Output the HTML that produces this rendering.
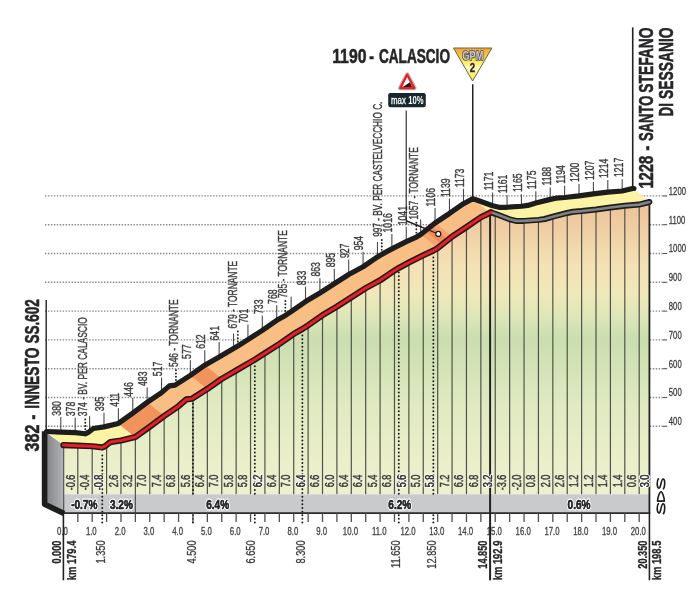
<!DOCTYPE html>
<html><head><meta charset="utf-8"><title>Calascio - Santo Stefano di Sessanio</title>
<style>
html,body{margin:0;padding:0;background:#fff;}
body{width:700px;height:611px;overflow:hidden;font-family:"Liberation Sans",sans-serif;}
svg{display:block;will-change:transform;}
text{font-family:"Liberation Sans",sans-serif;}
</style></head><body>
<svg width="700" height="611" viewBox="0 0 700 611" font-family="Liberation Sans, sans-serif">
<defs>
<linearGradient id="face" gradientUnits="userSpaceOnUse" x1="0" y1="200" x2="0" y2="494.3">
<stop offset="0" stop-color="#ecc195"/>
<stop offset="0.10" stop-color="#f0cea4"/>
<stop offset="0.22" stop-color="#f4e1b5"/>
<stop offset="0.32" stop-color="#f0e8ba"/>
<stop offset="0.40" stop-color="#dce6b8"/>
<stop offset="0.47" stop-color="#cadeb0"/>
<stop offset="0.55" stop-color="#d1e2b5"/>
<stop offset="0.68" stop-color="#dfe9c0"/>
<stop offset="0.85" stop-color="#e9eec9"/>
<stop offset="1" stop-color="#eef1d0"/>
</linearGradient>
<linearGradient id="side" x1="0" y1="0" x2="1" y2="0">
<stop offset="0" stop-color="#808184"/>
<stop offset="1" stop-color="#b1b2b4"/>
</linearGradient>
<linearGradient id="gpm" x1="0" y1="0" x2="0" y2="1">
<stop offset="0" stop-color="#efa338"/>
<stop offset="0.28" stop-color="#f9cf3e"/>
<stop offset="0.45" stop-color="#fdee6a"/>
<stop offset="0.62" stop-color="#fff9c4"/>
<stop offset="0.82" stop-color="#fdee6a"/>
<stop offset="1" stop-color="#fde647"/>
</linearGradient>
</defs>
<rect width="700" height="611" fill="#fff"/>
<line x1="45" y1="195.9" x2="662.5" y2="195.9" stroke="#88888b" stroke-width="1.4" stroke-dasharray="1.45 1.5"/>
<line x1="662.5" y1="195.9" x2="667.2" y2="195.9" stroke="#555" stroke-width="1.1"/>
<text transform="translate(668.8,194.7) scale(0.655,1)" font-size="11.8" text-anchor="start" fill="#3a3a3c" stroke="#3a3a3c" stroke-width="0.3">1200</text>
<line x1="45" y1="224.7" x2="662.5" y2="224.7" stroke="#88888b" stroke-width="1.4" stroke-dasharray="1.45 1.5"/>
<line x1="662.5" y1="224.7" x2="667.2" y2="224.7" stroke="#555" stroke-width="1.1"/>
<text transform="translate(668.8,223.5) scale(0.655,1)" font-size="11.8" text-anchor="start" fill="#3a3a3c" stroke="#3a3a3c" stroke-width="0.3">1100</text>
<line x1="45" y1="253.5" x2="662.5" y2="253.5" stroke="#88888b" stroke-width="1.4" stroke-dasharray="1.45 1.5"/>
<line x1="662.5" y1="253.5" x2="667.2" y2="253.5" stroke="#555" stroke-width="1.1"/>
<text transform="translate(668.8,252.3) scale(0.655,1)" font-size="11.8" text-anchor="start" fill="#3a3a3c" stroke="#3a3a3c" stroke-width="0.3">1000</text>
<line x1="45" y1="282.3" x2="662.5" y2="282.3" stroke="#88888b" stroke-width="1.4" stroke-dasharray="1.45 1.5"/>
<line x1="662.5" y1="282.3" x2="667.2" y2="282.3" stroke="#555" stroke-width="1.1"/>
<text transform="translate(668.8,281.1) scale(0.655,1)" font-size="11.8" text-anchor="start" fill="#3a3a3c" stroke="#3a3a3c" stroke-width="0.3">900</text>
<line x1="45" y1="311.1" x2="662.5" y2="311.1" stroke="#88888b" stroke-width="1.4" stroke-dasharray="1.45 1.5"/>
<line x1="662.5" y1="311.1" x2="667.2" y2="311.1" stroke="#555" stroke-width="1.1"/>
<text transform="translate(668.8,309.9) scale(0.655,1)" font-size="11.8" text-anchor="start" fill="#3a3a3c" stroke="#3a3a3c" stroke-width="0.3">800</text>
<line x1="45" y1="339.9" x2="662.5" y2="339.9" stroke="#88888b" stroke-width="1.4" stroke-dasharray="1.45 1.5"/>
<line x1="662.5" y1="339.9" x2="667.2" y2="339.9" stroke="#555" stroke-width="1.1"/>
<text transform="translate(668.8,338.7) scale(0.655,1)" font-size="11.8" text-anchor="start" fill="#3a3a3c" stroke="#3a3a3c" stroke-width="0.3">700</text>
<line x1="45" y1="368.7" x2="662.5" y2="368.7" stroke="#88888b" stroke-width="1.4" stroke-dasharray="1.45 1.5"/>
<line x1="662.5" y1="368.7" x2="667.2" y2="368.7" stroke="#555" stroke-width="1.1"/>
<text transform="translate(668.8,367.5) scale(0.655,1)" font-size="11.8" text-anchor="start" fill="#3a3a3c" stroke="#3a3a3c" stroke-width="0.3">600</text>
<line x1="45" y1="397.5" x2="662.5" y2="397.5" stroke="#88888b" stroke-width="1.4" stroke-dasharray="1.45 1.5"/>
<line x1="662.5" y1="397.5" x2="667.2" y2="397.5" stroke="#555" stroke-width="1.1"/>
<text transform="translate(668.8,396.3) scale(0.655,1)" font-size="11.8" text-anchor="start" fill="#3a3a3c" stroke="#3a3a3c" stroke-width="0.3">500</text>
<line x1="45" y1="426.3" x2="662.5" y2="426.3" stroke="#88888b" stroke-width="1.4" stroke-dasharray="1.45 1.5"/>
<line x1="662.5" y1="426.3" x2="667.2" y2="426.3" stroke="#555" stroke-width="1.1"/>
<text transform="translate(668.8,425.1) scale(0.655,1)" font-size="11.8" text-anchor="start" fill="#3a3a3c" stroke="#3a3a3c" stroke-width="0.3">400</text>
<line x1="60.8" y1="432.06" x2="60.8" y2="417.06" stroke="#4a4a4c" stroke-width="1.1"/>
<text transform="translate(61.09,415.66) rotate(-90) scale(0.695,1)" font-size="12.5" text-anchor="start" fill="#3c3c3e" stroke="#3c3c3e" stroke-width="0.4">380</text>
<line x1="75.19" y1="432.64" x2="75.19" y2="417.64" stroke="#4a4a4c" stroke-width="1.1"/>
<text transform="translate(75.49,416.24) rotate(-90) scale(0.695,1)" font-size="12.5" text-anchor="start" fill="#3c3c3e" stroke="#3c3c3e" stroke-width="0.4">378</text>
<line x1="103.98" y1="426.88" x2="103.98" y2="412.74" stroke="#4a4a4c" stroke-width="1.1"/>
<text transform="translate(104.28,411.34) rotate(-90) scale(0.695,1)" font-size="12.5" text-anchor="start" fill="#3c3c3e" stroke="#3c3c3e" stroke-width="0.4">395</text>
<line x1="118.38" y1="423.42" x2="118.38" y2="408.13" stroke="#4a4a4c" stroke-width="1.1"/>
<text transform="translate(118.67,406.73) rotate(-90) scale(0.695,1)" font-size="12.5" text-anchor="start" fill="#3c3c3e" stroke="#3c3c3e" stroke-width="0.4">411</text>
<line x1="132.77" y1="413.05" x2="132.77" y2="398.05" stroke="#4a4a4c" stroke-width="1.1"/>
<text transform="translate(133.07,396.65) rotate(-90) scale(0.695,1)" font-size="12.5" text-anchor="start" fill="#3c3c3e" stroke="#3c3c3e" stroke-width="0.4">446</text>
<line x1="147.16" y1="402.4" x2="147.16" y2="387.4" stroke="#4a4a4c" stroke-width="1.1"/>
<text transform="translate(147.47,386) rotate(-90) scale(0.695,1)" font-size="12.5" text-anchor="start" fill="#3c3c3e" stroke="#3c3c3e" stroke-width="0.4">483</text>
<line x1="161.56" y1="392.6" x2="161.56" y2="377.6" stroke="#4a4a4c" stroke-width="1.1"/>
<text transform="translate(161.86,376.2) rotate(-90) scale(0.695,1)" font-size="12.5" text-anchor="start" fill="#3c3c3e" stroke="#3c3c3e" stroke-width="0.4">517</text>
<line x1="190.35" y1="375.32" x2="190.35" y2="360.32" stroke="#4a4a4c" stroke-width="1.1"/>
<text transform="translate(190.65,358.92) rotate(-90) scale(0.695,1)" font-size="12.5" text-anchor="start" fill="#3c3c3e" stroke="#3c3c3e" stroke-width="0.4">577</text>
<line x1="204.75" y1="365.24" x2="204.75" y2="350.24" stroke="#4a4a4c" stroke-width="1.1"/>
<text transform="translate(205.05,348.84) rotate(-90) scale(0.695,1)" font-size="12.5" text-anchor="start" fill="#3c3c3e" stroke="#3c3c3e" stroke-width="0.4">612</text>
<line x1="219.14" y1="356.89" x2="219.14" y2="341.89" stroke="#4a4a4c" stroke-width="1.1"/>
<text transform="translate(219.44,340.49) rotate(-90) scale(0.695,1)" font-size="12.5" text-anchor="start" fill="#3c3c3e" stroke="#3c3c3e" stroke-width="0.4">641</text>
<line x1="247.93" y1="339.61" x2="247.93" y2="324.61" stroke="#4a4a4c" stroke-width="1.1"/>
<text transform="translate(248.23,323.21) rotate(-90) scale(0.695,1)" font-size="12.5" text-anchor="start" fill="#3c3c3e" stroke="#3c3c3e" stroke-width="0.4">701</text>
<line x1="262.32" y1="330.4" x2="262.32" y2="315.4" stroke="#4a4a4c" stroke-width="1.1"/>
<text transform="translate(262.62,314) rotate(-90) scale(0.695,1)" font-size="12.5" text-anchor="start" fill="#3c3c3e" stroke="#3c3c3e" stroke-width="0.4">733</text>
<line x1="276.72" y1="320.32" x2="276.72" y2="305.32" stroke="#4a4a4c" stroke-width="1.1"/>
<text transform="translate(277.02,303.92) rotate(-90) scale(0.695,1)" font-size="12.5" text-anchor="start" fill="#3c3c3e" stroke="#3c3c3e" stroke-width="0.4">768</text>
<line x1="305.51" y1="301.6" x2="305.51" y2="286.6" stroke="#4a4a4c" stroke-width="1.1"/>
<text transform="translate(305.81,285.2) rotate(-90) scale(0.695,1)" font-size="12.5" text-anchor="start" fill="#3c3c3e" stroke="#3c3c3e" stroke-width="0.4">833</text>
<line x1="319.9" y1="292.96" x2="319.9" y2="277.96" stroke="#4a4a4c" stroke-width="1.1"/>
<text transform="translate(320.2,276.56) rotate(-90) scale(0.695,1)" font-size="12.5" text-anchor="start" fill="#3c3c3e" stroke="#3c3c3e" stroke-width="0.4">863</text>
<line x1="334.3" y1="283.74" x2="334.3" y2="268.74" stroke="#4a4a4c" stroke-width="1.1"/>
<text transform="translate(334.6,267.34) rotate(-90) scale(0.695,1)" font-size="12.5" text-anchor="start" fill="#3c3c3e" stroke="#3c3c3e" stroke-width="0.4">895</text>
<line x1="348.69" y1="274.52" x2="348.69" y2="259.52" stroke="#4a4a4c" stroke-width="1.1"/>
<text transform="translate(349,258.12) rotate(-90) scale(0.695,1)" font-size="12.5" text-anchor="start" fill="#3c3c3e" stroke="#3c3c3e" stroke-width="0.4">927</text>
<line x1="363.09" y1="266.75" x2="363.09" y2="251.75" stroke="#4a4a4c" stroke-width="1.1"/>
<text transform="translate(363.39,250.35) rotate(-90) scale(0.695,1)" font-size="12.5" text-anchor="start" fill="#3c3c3e" stroke="#3c3c3e" stroke-width="0.4">954</text>
<line x1="391.88" y1="248.89" x2="391.88" y2="233.89" stroke="#4a4a4c" stroke-width="1.1"/>
<text transform="translate(392.18,232.49) rotate(-90) scale(0.695,1)" font-size="12.5" text-anchor="start" fill="#3c3c3e" stroke="#3c3c3e" stroke-width="0.4">1016</text>
<line x1="406.27" y1="241.69" x2="406.27" y2="226.69" stroke="#4a4a4c" stroke-width="1.1"/>
<text transform="translate(406.57,225.29) rotate(-90) scale(0.695,1)" font-size="12.5" text-anchor="start" fill="#3c3c3e" stroke="#3c3c3e" stroke-width="0.4">1041</text>
<line x1="435.06" y1="222.97" x2="435.06" y2="207.97" stroke="#4a4a4c" stroke-width="1.1"/>
<text transform="translate(435.36,206.57) rotate(-90) scale(0.695,1)" font-size="12.5" text-anchor="start" fill="#3c3c3e" stroke="#3c3c3e" stroke-width="0.4">1106</text>
<line x1="449.46" y1="213.47" x2="449.46" y2="198.47" stroke="#4a4a4c" stroke-width="1.1"/>
<text transform="translate(449.76,197.07) rotate(-90) scale(0.695,1)" font-size="12.5" text-anchor="start" fill="#3c3c3e" stroke="#3c3c3e" stroke-width="0.4">1139</text>
<line x1="463.49" y1="203.68" x2="463.49" y2="188.68" stroke="#4a4a4c" stroke-width="1.1"/>
<text transform="translate(463.79,187.28) rotate(-90) scale(0.695,1)" font-size="12.5" text-anchor="start" fill="#3c3c3e" stroke="#3c3c3e" stroke-width="0.4">1173</text>
<line x1="492.64" y1="205.69" x2="492.64" y2="192.45" stroke="#4a4a4c" stroke-width="1.1"/>
<text transform="translate(492.94,190.35) rotate(-90) scale(0.695,1)" font-size="12.5" text-anchor="start" fill="#3c3c3e" stroke="#3c3c3e" stroke-width="0.4">1171</text>
<line x1="507.04" y1="207.28" x2="507.04" y2="195.33" stroke="#4a4a4c" stroke-width="1.1"/>
<text transform="translate(507.34,193.23) rotate(-90) scale(0.695,1)" font-size="12.5" text-anchor="start" fill="#3c3c3e" stroke="#3c3c3e" stroke-width="0.4">1161</text>
<line x1="521.43" y1="206.27" x2="521.43" y2="194.18" stroke="#4a4a4c" stroke-width="1.1"/>
<text transform="translate(521.73,192.08) rotate(-90) scale(0.695,1)" font-size="12.5" text-anchor="start" fill="#3c3c3e" stroke="#3c3c3e" stroke-width="0.4">1165</text>
<line x1="535.83" y1="203.1" x2="535.83" y2="191.3" stroke="#4a4a4c" stroke-width="1.1"/>
<text transform="translate(536.13,189.2) rotate(-90) scale(0.695,1)" font-size="12.5" text-anchor="start" fill="#3c3c3e" stroke="#3c3c3e" stroke-width="0.4">1175</text>
<line x1="550.23" y1="199.36" x2="550.23" y2="187.56" stroke="#4a4a4c" stroke-width="1.1"/>
<text transform="translate(550.52,185.46) rotate(-90) scale(0.695,1)" font-size="12.5" text-anchor="start" fill="#3c3c3e" stroke="#3c3c3e" stroke-width="0.4">1188</text>
<line x1="564.62" y1="197.48" x2="564.62" y2="185.83" stroke="#4a4a4c" stroke-width="1.1"/>
<text transform="translate(564.92,183.73) rotate(-90) scale(0.695,1)" font-size="12.5" text-anchor="start" fill="#3c3c3e" stroke="#3c3c3e" stroke-width="0.4">1194</text>
<line x1="579.01" y1="195.9" x2="579.01" y2="184.1" stroke="#4a4a4c" stroke-width="1.1"/>
<text transform="translate(579.31,182) rotate(-90) scale(0.695,1)" font-size="12.5" text-anchor="start" fill="#3c3c3e" stroke="#3c3c3e" stroke-width="0.4">1200</text>
<line x1="593.41" y1="193.88" x2="593.41" y2="182.08" stroke="#4a4a4c" stroke-width="1.1"/>
<text transform="translate(593.71,179.98) rotate(-90) scale(0.695,1)" font-size="12.5" text-anchor="start" fill="#3c3c3e" stroke="#3c3c3e" stroke-width="0.4">1207</text>
<line x1="607.8" y1="192.16" x2="607.8" y2="180.07" stroke="#4a4a4c" stroke-width="1.1"/>
<text transform="translate(608.1,177.97) rotate(-90) scale(0.695,1)" font-size="12.5" text-anchor="start" fill="#3c3c3e" stroke="#3c3c3e" stroke-width="0.4">1214</text>
<line x1="622.2" y1="191" x2="622.2" y2="179.2" stroke="#4a4a4c" stroke-width="1.1"/>
<text transform="translate(622.5,177.1) rotate(-90) scale(0.695,1)" font-size="12.5" text-anchor="start" fill="#3c3c3e" stroke="#3c3c3e" stroke-width="0.4">1217</text>
<line x1="89.59" y1="431.37" x2="89.59" y2="416.37" stroke="#4a4a4c" stroke-width="1.1"/>
<line x1="233.53" y1="348.54" x2="233.53" y2="333.54" stroke="#4a4a4c" stroke-width="1.1"/>
<line x1="291.12" y1="311.68" x2="291.12" y2="296.68" stroke="#4a4a4c" stroke-width="1.1"/>
<line x1="377.48" y1="256.96" x2="377.48" y2="241.96" stroke="#4a4a4c" stroke-width="1.1"/>
<line x1="420.67" y1="234.49" x2="420.67" y2="219.49" stroke="#4a4a4c" stroke-width="1.1"/>
<line x1="85.27" y1="419.39" x2="85.27" y2="430.29" stroke="#1a1a1a" stroke-width="1.9" stroke-linecap="round" stroke-dasharray="0 3.3"/>
<text transform="translate(87.27,416.29) rotate(-90) scale(0.676,1)" font-size="12.5" text-anchor="start" fill="#3c3c3e" stroke="#3c3c3e" stroke-width="0.4">374 - BV. PER CALASCIO</text>
<line x1="175.96" y1="370.16" x2="175.96" y2="381.06" stroke="#1a1a1a" stroke-width="1.9" stroke-linecap="round" stroke-dasharray="0 3.3"/>
<text transform="translate(177.56,367.06) rotate(-90) scale(0.676,1)" font-size="12.5" text-anchor="start" fill="#3c3c3e" stroke="#3c3c3e" stroke-width="0.4">546 - TORNANTE</text>
<line x1="237.85" y1="331.55" x2="237.85" y2="342.45" stroke="#1a1a1a" stroke-width="1.9" stroke-linecap="round" stroke-dasharray="0 3.3"/>
<text transform="translate(237.25,328.45) rotate(-90) scale(0.676,1)" font-size="12.5" text-anchor="start" fill="#3c3c3e" stroke="#3c3c3e" stroke-width="0.4">679 - TORNANTE</text>
<line x1="285.36" y1="301.02" x2="285.36" y2="311.92" stroke="#1a1a1a" stroke-width="1.9" stroke-linecap="round" stroke-dasharray="0 3.3"/>
<text transform="translate(287.06,297.92) rotate(-90) scale(0.676,1)" font-size="12.5" text-anchor="start" fill="#3c3c3e" stroke="#3c3c3e" stroke-width="0.4">785 - TORNANTE</text>
<line x1="381.8" y1="239.96" x2="381.8" y2="250.86" stroke="#1a1a1a" stroke-width="1.9" stroke-linecap="round" stroke-dasharray="0 3.3"/>
<text transform="translate(381.8,236.86) rotate(-90) scale(0.663,1)" font-size="12.5" text-anchor="start" fill="#3c3c3e" stroke="#3c3c3e" stroke-width="0.4">997 - BV. PER CASTELVECCHIO C.</text>
<line x1="416.35" y1="222.68" x2="416.35" y2="233.58" stroke="#1a1a1a" stroke-width="1.9" stroke-linecap="round" stroke-dasharray="0 3.3"/>
<text transform="translate(418.25,219.58) rotate(-90) scale(0.676,1)" font-size="12.5" text-anchor="start" fill="#3c3c3e" stroke="#3c3c3e" stroke-width="0.4">1057 - TORNANTE</text>
<line x1="46.2" y1="300" x2="46.2" y2="432" stroke="#222" stroke-width="1.4"/>
<line x1="632.72" y1="27.4" x2="632.72" y2="189" stroke="#222" stroke-width="1.6"/>
<line x1="472.73" y1="84.2" x2="472.73" y2="197" stroke="#222" stroke-width="1.5"/>
<polyline points="406.2,110.4 406.2,220.8 436,233" fill="none" stroke="#222" stroke-width="1.1"/>
<polygon points="46.4,431.48 60.8,432.06 75.19,432.64 85.27,433.79 88.15,432.49 93.33,428.46 103.98,426.88 118.38,423.42 135.38,437.02 120.98,440.48 110.33,442.06 105.15,446.09 102.27,447.39 92.19,446.24 77.8,445.66 63.4,445.08" fill="#fcf3a5" stroke="#fcf3a5" stroke-width="0.4"/>
<polygon points="118.38,423.42 132.77,413.05 147.16,402.4 161.56,392.6 169.33,385.84 175.09,385.12 190.35,375.32 204.75,365.24 219.14,356.89 233.53,348.54 237.85,345.95 247.93,339.61 262.32,330.4 276.72,320.32 285.36,315.42 291.12,311.68 305.51,301.6 319.9,292.96 334.3,283.74 348.69,274.52 363.09,266.75 377.48,256.96 381.8,254.36 391.88,248.89 406.27,241.69 416.35,237.08 420.67,234.49 435.06,222.97 449.46,213.47 463.49,203.68 472.73,198.78 490.93,212.38 480.85,217.28 466.46,227.07 452.06,236.57 437.67,248.09 433.35,250.68 423.27,255.29 408.88,262.49 398.8,267.96 394.48,270.56 380.09,280.35 365.69,288.12 351.3,297.34 336.9,306.56 322.51,315.2 308.12,325.28 302.36,329.02 293.72,333.92 279.32,344 264.93,353.21 254.85,359.55 250.53,362.14 236.14,370.49 221.75,378.84 207.35,388.92 192.09,398.72 186.33,399.44 178.56,406.2 164.16,416 149.77,426.65 135.38,437.02" fill="#f9be83" stroke="#f9be83" stroke-width="0.4"/>
<polygon points="472.73,198.78 477.41,200.22 492.64,205.69 498.98,207.28 507.04,207.28 521.43,206.27 527.77,205.4 535.83,203.1 550.23,199.36 555.98,198.2 564.62,197.48 579.01,195.9 593.41,193.88 607.8,192.16 622.2,191 632.42,188.41 649.42,202.01 639.2,204.6 624.8,205.76 610.41,207.48 596.01,209.5 581.62,211.08 572.98,211.8 567.23,212.96 552.83,216.7 544.77,219 538.43,219.87 524.04,220.88 515.98,220.88 509.64,219.29 495.25,213.82 490.93,212.38" fill="#fcf3a5" stroke="#fcf3a5" stroke-width="0.4"/>
<polygon points="118.38,423.42 132.77,413.05 147.16,402.4 164.16,416 149.77,426.65 135.38,437.02" fill="#f2935b" stroke="#f2935b" stroke-width="0.4"/>
<polygon points="190.35,375.32 204.75,365.24 221.75,378.84 207.35,388.92" fill="#f2935b" stroke="#f2935b" stroke-width="0.4"/>
<polygon points="420.67,234.49 435.06,222.97 452.06,236.57 437.67,248.09" fill="#f5a470" stroke="#f5a470" stroke-width="0.4"/>
<polygon points="425.28,230.81 431.03,226.2 448.03,239.8 442.28,244.41" fill="#ef8a54" stroke="#ef8a54" stroke-width="0.4"/>
<polygon points="63.4,445.08 77.8,445.66 92.19,446.24 102.27,447.39 105.15,446.09 110.33,442.06 120.98,440.48 135.38,437.02 149.77,426.65 164.16,416 178.56,406.2 186.33,399.44 192.09,398.72 207.35,388.92 221.75,378.84 236.14,370.49 250.53,362.14 254.85,359.55 264.93,353.21 279.32,344 293.72,333.92 302.36,329.02 308.12,325.28 322.51,315.2 336.9,306.56 351.3,297.34 365.69,288.12 380.09,280.35 394.48,270.56 398.8,267.96 408.88,262.49 423.27,255.29 433.35,250.68 437.67,248.09 452.06,236.57 466.46,227.07 480.85,217.28 490.93,212.38 495.25,213.82 509.64,219.29 515.98,220.88 524.04,220.88 538.43,219.87 544.77,219 552.83,216.7 567.23,212.96 572.98,211.8 581.62,211.08 596.01,209.5 610.41,207.48 624.8,205.76 639.2,204.6 649.42,202.01 649.42,494.3 63.4,494.3" fill="url(#face)"/>
<line x1="77.8" y1="445.66" x2="77.8" y2="494.3" stroke="#52524a" stroke-width="1.2"/>
<line x1="92.19" y1="446.24" x2="92.19" y2="494.3" stroke="#52524a" stroke-width="1.2"/>
<line x1="106.59" y1="444.97" x2="106.59" y2="494.3" stroke="#52524a" stroke-width="1.2"/>
<line x1="120.98" y1="440.48" x2="120.98" y2="494.3" stroke="#52524a" stroke-width="1.2"/>
<line x1="135.38" y1="437.02" x2="135.38" y2="513.2" stroke="#52524a" stroke-width="1.2"/>
<line x1="149.77" y1="426.65" x2="149.77" y2="494.3" stroke="#52524a" stroke-width="1.2"/>
<line x1="164.16" y1="416" x2="164.16" y2="494.3" stroke="#52524a" stroke-width="1.2"/>
<line x1="178.56" y1="406.2" x2="178.56" y2="494.3" stroke="#52524a" stroke-width="1.2"/>
<line x1="192.96" y1="398.16" x2="192.96" y2="494.3" stroke="#52524a" stroke-width="1.2"/>
<line x1="207.35" y1="388.92" x2="207.35" y2="494.3" stroke="#52524a" stroke-width="1.2"/>
<line x1="221.75" y1="378.84" x2="221.75" y2="494.3" stroke="#52524a" stroke-width="1.2"/>
<line x1="236.14" y1="370.49" x2="236.14" y2="494.3" stroke="#52524a" stroke-width="1.2"/>
<line x1="250.53" y1="362.14" x2="250.53" y2="494.3" stroke="#52524a" stroke-width="1.2"/>
<line x1="264.93" y1="353.21" x2="264.93" y2="494.3" stroke="#52524a" stroke-width="1.2"/>
<line x1="279.32" y1="344" x2="279.32" y2="494.3" stroke="#52524a" stroke-width="1.2"/>
<line x1="293.72" y1="333.92" x2="293.72" y2="494.3" stroke="#52524a" stroke-width="1.2"/>
<line x1="308.12" y1="325.28" x2="308.12" y2="494.3" stroke="#52524a" stroke-width="1.2"/>
<line x1="322.51" y1="315.2" x2="322.51" y2="494.3" stroke="#52524a" stroke-width="1.2"/>
<line x1="336.9" y1="306.56" x2="336.9" y2="494.3" stroke="#52524a" stroke-width="1.2"/>
<line x1="351.3" y1="297.34" x2="351.3" y2="494.3" stroke="#52524a" stroke-width="1.2"/>
<line x1="365.69" y1="288.12" x2="365.69" y2="494.3" stroke="#52524a" stroke-width="1.2"/>
<line x1="380.09" y1="280.35" x2="380.09" y2="494.3" stroke="#52524a" stroke-width="1.2"/>
<line x1="394.48" y1="270.56" x2="394.48" y2="494.3" stroke="#52524a" stroke-width="1.2"/>
<line x1="408.88" y1="262.49" x2="408.88" y2="494.3" stroke="#52524a" stroke-width="1.2"/>
<line x1="423.27" y1="255.29" x2="423.27" y2="494.3" stroke="#52524a" stroke-width="1.2"/>
<line x1="437.67" y1="248.09" x2="437.67" y2="494.3" stroke="#52524a" stroke-width="1.2"/>
<line x1="452.06" y1="236.57" x2="452.06" y2="494.3" stroke="#52524a" stroke-width="1.2"/>
<line x1="466.46" y1="227.07" x2="466.46" y2="494.3" stroke="#52524a" stroke-width="1.2"/>
<line x1="480.85" y1="217.28" x2="480.85" y2="494.3" stroke="#52524a" stroke-width="1.2"/>
<line x1="495.25" y1="213.82" x2="495.25" y2="494.3" stroke="#52524a" stroke-width="1.2"/>
<line x1="509.64" y1="219.29" x2="509.64" y2="494.3" stroke="#52524a" stroke-width="1.2"/>
<line x1="524.04" y1="220.88" x2="524.04" y2="494.3" stroke="#52524a" stroke-width="1.2"/>
<line x1="538.43" y1="219.87" x2="538.43" y2="494.3" stroke="#52524a" stroke-width="1.2"/>
<line x1="552.83" y1="216.7" x2="552.83" y2="494.3" stroke="#52524a" stroke-width="1.2"/>
<line x1="567.23" y1="212.96" x2="567.23" y2="494.3" stroke="#52524a" stroke-width="1.2"/>
<line x1="581.62" y1="211.08" x2="581.62" y2="494.3" stroke="#52524a" stroke-width="1.2"/>
<line x1="596.01" y1="209.5" x2="596.01" y2="494.3" stroke="#52524a" stroke-width="1.2"/>
<line x1="610.41" y1="207.48" x2="610.41" y2="494.3" stroke="#52524a" stroke-width="1.2"/>
<line x1="624.8" y1="205.76" x2="624.8" y2="494.3" stroke="#52524a" stroke-width="1.2"/>
<line x1="639.2" y1="204.6" x2="639.2" y2="494.3" stroke="#52524a" stroke-width="1.2"/>
<rect x="63.4" y="494.3" width="586.02" height="18.9" fill="#c9cacc"/>
<line x1="135.38" y1="494.3" x2="135.38" y2="513.2" stroke="#52524a" stroke-width="1.2"/>
<line x1="102.27" y1="511.7" x2="102.27" y2="451.89" stroke="#1a1a1a" stroke-width="1.95" stroke-linecap="round" stroke-dasharray="0 3.75"/>
<line x1="102.27" y1="515.2" x2="102.27" y2="523" stroke="#1a1a1a" stroke-width="1.95" stroke-linecap="round" stroke-dasharray="0 3.6"/>
<line x1="192.96" y1="493.8" x2="192.96" y2="402.66" stroke="#1a1a1a" stroke-width="1.95" stroke-linecap="round" stroke-dasharray="0 3.75"/>
<line x1="192.96" y1="515.2" x2="192.96" y2="523" stroke="#1a1a1a" stroke-width="1.95" stroke-linecap="round" stroke-dasharray="0 3.6"/>
<line x1="254.85" y1="493.8" x2="254.85" y2="364.05" stroke="#1a1a1a" stroke-width="1.95" stroke-linecap="round" stroke-dasharray="0 3.75"/>
<line x1="254.85" y1="515.2" x2="254.85" y2="523" stroke="#1a1a1a" stroke-width="1.95" stroke-linecap="round" stroke-dasharray="0 3.6"/>
<line x1="302.36" y1="511.7" x2="302.36" y2="333.52" stroke="#1a1a1a" stroke-width="1.95" stroke-linecap="round" stroke-dasharray="0 3.75"/>
<line x1="302.36" y1="515.2" x2="302.36" y2="523" stroke="#1a1a1a" stroke-width="1.95" stroke-linecap="round" stroke-dasharray="0 3.6"/>
<line x1="398.8" y1="493.8" x2="398.8" y2="272.46" stroke="#1a1a1a" stroke-width="1.95" stroke-linecap="round" stroke-dasharray="0 3.75"/>
<line x1="398.8" y1="515.2" x2="398.8" y2="523" stroke="#1a1a1a" stroke-width="1.95" stroke-linecap="round" stroke-dasharray="0 3.6"/>
<line x1="433.35" y1="493.8" x2="433.35" y2="255.18" stroke="#1a1a1a" stroke-width="1.95" stroke-linecap="round" stroke-dasharray="0 3.75"/>
<line x1="433.35" y1="515.2" x2="433.35" y2="523" stroke="#1a1a1a" stroke-width="1.95" stroke-linecap="round" stroke-dasharray="0 3.6"/>
<text transform="translate(84.3,508.8) scale(0.74,1)" font-size="13.6" text-anchor="middle" fill="#2a2a2c" font-weight="bold" stroke="#fff" stroke-width="2.8" paint-order="stroke" stroke-linejoin="round">-0.7%</text>
<text transform="translate(84.3,508.8) scale(0.74,1)" font-size="13.6" text-anchor="middle" fill="#2a2a2c" font-weight="bold" stroke="#2a2a2c" stroke-width="0.45">-0.7%</text>
<text transform="translate(121.4,508.8) scale(0.74,1)" font-size="13.6" text-anchor="middle" fill="#2a2a2c" font-weight="bold" stroke="#fff" stroke-width="2.8" paint-order="stroke" stroke-linejoin="round">3.2%</text>
<text transform="translate(121.4,508.8) scale(0.74,1)" font-size="13.6" text-anchor="middle" fill="#2a2a2c" font-weight="bold" stroke="#2a2a2c" stroke-width="0.45">3.2%</text>
<text transform="translate(217.7,508.8) scale(0.74,1)" font-size="13.6" text-anchor="middle" fill="#2a2a2c" font-weight="bold" stroke="#fff" stroke-width="2.8" paint-order="stroke" stroke-linejoin="round">6.4%</text>
<text transform="translate(217.7,508.8) scale(0.74,1)" font-size="13.6" text-anchor="middle" fill="#2a2a2c" font-weight="bold" stroke="#2a2a2c" stroke-width="0.45">6.4%</text>
<text transform="translate(399.8,508.8) scale(0.74,1)" font-size="13.6" text-anchor="middle" fill="#2a2a2c" font-weight="bold" stroke="#fff" stroke-width="2.8" paint-order="stroke" stroke-linejoin="round">6.2%</text>
<text transform="translate(399.8,508.8) scale(0.74,1)" font-size="13.6" text-anchor="middle" fill="#2a2a2c" font-weight="bold" stroke="#2a2a2c" stroke-width="0.45">6.2%</text>
<text transform="translate(579,508.8) scale(0.74,1)" font-size="13.6" text-anchor="middle" fill="#2a2a2c" font-weight="bold" stroke="#fff" stroke-width="2.8" paint-order="stroke" stroke-linejoin="round">0.6%</text>
<text transform="translate(579,508.8) scale(0.74,1)" font-size="13.6" text-anchor="middle" fill="#2a2a2c" font-weight="bold" stroke="#2a2a2c" stroke-width="0.45">0.6%</text>
<line x1="62.6" y1="513.2" x2="650.22" y2="513.2" stroke="#2b2b2b" stroke-width="1.7"/>
<line x1="77.8" y1="513.2" x2="77.8" y2="522" stroke="#4f4f4f" stroke-width="1.3"/>
<line x1="92.19" y1="513.2" x2="92.19" y2="522" stroke="#4f4f4f" stroke-width="1.3"/>
<line x1="106.59" y1="513.2" x2="106.59" y2="522" stroke="#4f4f4f" stroke-width="1.3"/>
<line x1="120.98" y1="513.2" x2="120.98" y2="522" stroke="#4f4f4f" stroke-width="1.3"/>
<line x1="135.38" y1="513.2" x2="135.38" y2="522" stroke="#4f4f4f" stroke-width="1.3"/>
<line x1="149.77" y1="513.2" x2="149.77" y2="522" stroke="#4f4f4f" stroke-width="1.3"/>
<line x1="164.16" y1="513.2" x2="164.16" y2="522" stroke="#4f4f4f" stroke-width="1.3"/>
<line x1="178.56" y1="513.2" x2="178.56" y2="522" stroke="#4f4f4f" stroke-width="1.3"/>
<line x1="192.96" y1="513.2" x2="192.96" y2="522" stroke="#4f4f4f" stroke-width="1.3"/>
<line x1="207.35" y1="513.2" x2="207.35" y2="522" stroke="#4f4f4f" stroke-width="1.3"/>
<line x1="221.75" y1="513.2" x2="221.75" y2="522" stroke="#4f4f4f" stroke-width="1.3"/>
<line x1="236.14" y1="513.2" x2="236.14" y2="522" stroke="#4f4f4f" stroke-width="1.3"/>
<line x1="250.53" y1="513.2" x2="250.53" y2="522" stroke="#4f4f4f" stroke-width="1.3"/>
<line x1="264.93" y1="513.2" x2="264.93" y2="522" stroke="#4f4f4f" stroke-width="1.3"/>
<line x1="279.32" y1="513.2" x2="279.32" y2="522" stroke="#4f4f4f" stroke-width="1.3"/>
<line x1="293.72" y1="513.2" x2="293.72" y2="522" stroke="#4f4f4f" stroke-width="1.3"/>
<line x1="308.12" y1="513.2" x2="308.12" y2="522" stroke="#4f4f4f" stroke-width="1.3"/>
<line x1="322.51" y1="513.2" x2="322.51" y2="522" stroke="#4f4f4f" stroke-width="1.3"/>
<line x1="336.9" y1="513.2" x2="336.9" y2="522" stroke="#4f4f4f" stroke-width="1.3"/>
<line x1="351.3" y1="513.2" x2="351.3" y2="522" stroke="#4f4f4f" stroke-width="1.3"/>
<line x1="365.69" y1="513.2" x2="365.69" y2="522" stroke="#4f4f4f" stroke-width="1.3"/>
<line x1="380.09" y1="513.2" x2="380.09" y2="522" stroke="#4f4f4f" stroke-width="1.3"/>
<line x1="394.48" y1="513.2" x2="394.48" y2="522" stroke="#4f4f4f" stroke-width="1.3"/>
<line x1="408.88" y1="513.2" x2="408.88" y2="522" stroke="#4f4f4f" stroke-width="1.3"/>
<line x1="423.27" y1="513.2" x2="423.27" y2="522" stroke="#4f4f4f" stroke-width="1.3"/>
<line x1="437.67" y1="513.2" x2="437.67" y2="522" stroke="#4f4f4f" stroke-width="1.3"/>
<line x1="452.06" y1="513.2" x2="452.06" y2="522" stroke="#4f4f4f" stroke-width="1.3"/>
<line x1="466.46" y1="513.2" x2="466.46" y2="522" stroke="#4f4f4f" stroke-width="1.3"/>
<line x1="480.85" y1="513.2" x2="480.85" y2="522" stroke="#4f4f4f" stroke-width="1.3"/>
<line x1="495.25" y1="513.2" x2="495.25" y2="522" stroke="#4f4f4f" stroke-width="1.3"/>
<line x1="509.64" y1="513.2" x2="509.64" y2="522" stroke="#4f4f4f" stroke-width="1.3"/>
<line x1="524.04" y1="513.2" x2="524.04" y2="522" stroke="#4f4f4f" stroke-width="1.3"/>
<line x1="538.43" y1="513.2" x2="538.43" y2="522" stroke="#4f4f4f" stroke-width="1.3"/>
<line x1="552.83" y1="513.2" x2="552.83" y2="522" stroke="#4f4f4f" stroke-width="1.3"/>
<line x1="567.23" y1="513.2" x2="567.23" y2="522" stroke="#4f4f4f" stroke-width="1.3"/>
<line x1="581.62" y1="513.2" x2="581.62" y2="522" stroke="#4f4f4f" stroke-width="1.3"/>
<line x1="596.01" y1="513.2" x2="596.01" y2="522" stroke="#4f4f4f" stroke-width="1.3"/>
<line x1="610.41" y1="513.2" x2="610.41" y2="522" stroke="#4f4f4f" stroke-width="1.3"/>
<line x1="624.8" y1="513.2" x2="624.8" y2="522" stroke="#4f4f4f" stroke-width="1.3"/>
<line x1="639.2" y1="513.2" x2="639.2" y2="522" stroke="#4f4f4f" stroke-width="1.3"/>
<text transform="translate(62.5,535.4) scale(0.67,1)" font-size="11.6" text-anchor="middle" fill="#454547" stroke="#454547" stroke-width="0.35">0.0</text>
<text transform="translate(91.29,535.4) scale(0.67,1)" font-size="11.6" text-anchor="middle" fill="#454547" stroke="#454547" stroke-width="0.35">1.0</text>
<text transform="translate(120.08,535.4) scale(0.67,1)" font-size="11.6" text-anchor="middle" fill="#454547" stroke="#454547" stroke-width="0.35">2.0</text>
<text transform="translate(148.87,535.4) scale(0.67,1)" font-size="11.6" text-anchor="middle" fill="#454547" stroke="#454547" stroke-width="0.35">3.0</text>
<text transform="translate(177.66,535.4) scale(0.67,1)" font-size="11.6" text-anchor="middle" fill="#454547" stroke="#454547" stroke-width="0.35">4.0</text>
<text transform="translate(206.45,535.4) scale(0.67,1)" font-size="11.6" text-anchor="middle" fill="#454547" stroke="#454547" stroke-width="0.35">5.0</text>
<text transform="translate(235.24,535.4) scale(0.67,1)" font-size="11.6" text-anchor="middle" fill="#454547" stroke="#454547" stroke-width="0.35">6.0</text>
<text transform="translate(264.03,535.4) scale(0.67,1)" font-size="11.6" text-anchor="middle" fill="#454547" stroke="#454547" stroke-width="0.35">7.0</text>
<text transform="translate(292.82,535.4) scale(0.67,1)" font-size="11.6" text-anchor="middle" fill="#454547" stroke="#454547" stroke-width="0.35">8.0</text>
<text transform="translate(321.61,535.4) scale(0.67,1)" font-size="11.6" text-anchor="middle" fill="#454547" stroke="#454547" stroke-width="0.35">9.0</text>
<text transform="translate(350.4,535.4) scale(0.67,1)" font-size="11.6" text-anchor="middle" fill="#454547" stroke="#454547" stroke-width="0.35">10.0</text>
<text transform="translate(379.19,535.4) scale(0.67,1)" font-size="11.6" text-anchor="middle" fill="#454547" stroke="#454547" stroke-width="0.35">11.0</text>
<text transform="translate(407.98,535.4) scale(0.67,1)" font-size="11.6" text-anchor="middle" fill="#454547" stroke="#454547" stroke-width="0.35">12.0</text>
<text transform="translate(436.77,535.4) scale(0.67,1)" font-size="11.6" text-anchor="middle" fill="#454547" stroke="#454547" stroke-width="0.35">13.0</text>
<text transform="translate(465.56,535.4) scale(0.67,1)" font-size="11.6" text-anchor="middle" fill="#454547" stroke="#454547" stroke-width="0.35">14.0</text>
<text transform="translate(494.35,535.4) scale(0.67,1)" font-size="11.6" text-anchor="middle" fill="#454547" stroke="#454547" stroke-width="0.35">15.0</text>
<text transform="translate(523.14,535.4) scale(0.67,1)" font-size="11.6" text-anchor="middle" fill="#454547" stroke="#454547" stroke-width="0.35">16.0</text>
<text transform="translate(551.93,535.4) scale(0.67,1)" font-size="11.6" text-anchor="middle" fill="#454547" stroke="#454547" stroke-width="0.35">17.0</text>
<text transform="translate(580.72,535.4) scale(0.67,1)" font-size="11.6" text-anchor="middle" fill="#454547" stroke="#454547" stroke-width="0.35">18.0</text>
<text transform="translate(609.51,535.4) scale(0.67,1)" font-size="11.6" text-anchor="middle" fill="#454547" stroke="#454547" stroke-width="0.35">19.0</text>
<text transform="translate(638.3,535.4) scale(0.67,1)" font-size="11.6" text-anchor="middle" fill="#454547" stroke="#454547" stroke-width="0.35">20.0</text>
<line x1="63.4" y1="513.2" x2="63.4" y2="580.3" stroke="#222" stroke-width="1.6"/>
<line x1="490.1" y1="513.2" x2="490.1" y2="580.3" stroke="#222" stroke-width="2.0"/>
<line x1="649.42" y1="513.2" x2="649.42" y2="580.3" stroke="#222" stroke-width="1.6"/>
<line x1="490.1" y1="212.38" x2="490.1" y2="513.2" stroke="#222" stroke-width="2.0"/>
<line x1="649.42" y1="201.44" x2="649.42" y2="513.2" stroke="#222" stroke-width="1.8"/>
<line x1="63.4" y1="445.08" x2="63.4" y2="513.2" stroke="#222" stroke-width="1.6"/>
<text transform="translate(74.5,474.6) rotate(-90) scale(0.76,1)" font-size="12" text-anchor="end" fill="#3c3c3e" stroke="#3c3c3e" stroke-width="0.5">-0.6</text>
<text transform="translate(88.89,474.6) rotate(-90) scale(0.76,1)" font-size="12" text-anchor="end" fill="#3c3c3e" stroke="#3c3c3e" stroke-width="0.5">-0.4</text>
<text transform="translate(103.29,474.6) rotate(-90) scale(0.76,1)" font-size="12" text-anchor="end" fill="#3c3c3e" stroke="#fff" stroke-width="2.4" paint-order="stroke" stroke-linejoin="round">-0.8</text>
<text transform="translate(103.29,474.6) rotate(-90) scale(0.76,1)" font-size="12" text-anchor="end" fill="#3c3c3e" stroke="#3c3c3e" stroke-width="0.5">-0.8</text>
<text transform="translate(117.68,474.6) rotate(-90) scale(0.76,1)" font-size="12" text-anchor="end" fill="#3c3c3e" stroke="#3c3c3e" stroke-width="0.5">2.6</text>
<text transform="translate(132.08,474.6) rotate(-90) scale(0.76,1)" font-size="12" text-anchor="end" fill="#3c3c3e" stroke="#3c3c3e" stroke-width="0.5">3.2</text>
<text transform="translate(146.47,474.6) rotate(-90) scale(0.76,1)" font-size="12" text-anchor="end" fill="#3c3c3e" stroke="#3c3c3e" stroke-width="0.5">7.0</text>
<text transform="translate(160.87,474.6) rotate(-90) scale(0.76,1)" font-size="12" text-anchor="end" fill="#3c3c3e" stroke="#3c3c3e" stroke-width="0.5">7.4</text>
<text transform="translate(175.26,474.6) rotate(-90) scale(0.76,1)" font-size="12" text-anchor="end" fill="#3c3c3e" stroke="#3c3c3e" stroke-width="0.5">6.8</text>
<text transform="translate(189.66,474.6) rotate(-90) scale(0.76,1)" font-size="12" text-anchor="end" fill="#3c3c3e" stroke="#3c3c3e" stroke-width="0.5">5.6</text>
<text transform="translate(204.05,474.6) rotate(-90) scale(0.76,1)" font-size="12" text-anchor="end" fill="#3c3c3e" stroke="#3c3c3e" stroke-width="0.5">6.4</text>
<text transform="translate(218.45,474.6) rotate(-90) scale(0.76,1)" font-size="12" text-anchor="end" fill="#3c3c3e" stroke="#3c3c3e" stroke-width="0.5">7.0</text>
<text transform="translate(232.84,474.6) rotate(-90) scale(0.76,1)" font-size="12" text-anchor="end" fill="#3c3c3e" stroke="#3c3c3e" stroke-width="0.5">5.8</text>
<text transform="translate(247.24,474.6) rotate(-90) scale(0.76,1)" font-size="12" text-anchor="end" fill="#3c3c3e" stroke="#3c3c3e" stroke-width="0.5">5.8</text>
<text transform="translate(261.63,474.6) rotate(-90) scale(0.76,1)" font-size="12" text-anchor="end" fill="#3c3c3e" stroke="#fff" stroke-width="2.4" paint-order="stroke" stroke-linejoin="round">6.2</text>
<text transform="translate(261.63,474.6) rotate(-90) scale(0.76,1)" font-size="12" text-anchor="end" fill="#3c3c3e" stroke="#3c3c3e" stroke-width="0.5">6.2</text>
<text transform="translate(276.03,474.6) rotate(-90) scale(0.76,1)" font-size="12" text-anchor="end" fill="#3c3c3e" stroke="#3c3c3e" stroke-width="0.5">6.4</text>
<text transform="translate(290.42,474.6) rotate(-90) scale(0.76,1)" font-size="12" text-anchor="end" fill="#3c3c3e" stroke="#3c3c3e" stroke-width="0.5">7.0</text>
<text transform="translate(304.82,474.6) rotate(-90) scale(0.76,1)" font-size="12" text-anchor="end" fill="#3c3c3e" stroke="#fff" stroke-width="2.4" paint-order="stroke" stroke-linejoin="round">6.4</text>
<text transform="translate(304.82,474.6) rotate(-90) scale(0.76,1)" font-size="12" text-anchor="end" fill="#3c3c3e" stroke="#3c3c3e" stroke-width="0.5">6.4</text>
<text transform="translate(319.21,474.6) rotate(-90) scale(0.76,1)" font-size="12" text-anchor="end" fill="#3c3c3e" stroke="#3c3c3e" stroke-width="0.5">6.6</text>
<text transform="translate(333.61,474.6) rotate(-90) scale(0.76,1)" font-size="12" text-anchor="end" fill="#3c3c3e" stroke="#3c3c3e" stroke-width="0.5">6.0</text>
<text transform="translate(348,474.6) rotate(-90) scale(0.76,1)" font-size="12" text-anchor="end" fill="#3c3c3e" stroke="#3c3c3e" stroke-width="0.5">6.4</text>
<text transform="translate(362.4,474.6) rotate(-90) scale(0.76,1)" font-size="12" text-anchor="end" fill="#3c3c3e" stroke="#3c3c3e" stroke-width="0.5">6.4</text>
<text transform="translate(376.79,474.6) rotate(-90) scale(0.76,1)" font-size="12" text-anchor="end" fill="#3c3c3e" stroke="#3c3c3e" stroke-width="0.5">5.4</text>
<text transform="translate(391.19,474.6) rotate(-90) scale(0.76,1)" font-size="12" text-anchor="end" fill="#3c3c3e" stroke="#3c3c3e" stroke-width="0.5">6.8</text>
<text transform="translate(405.58,474.6) rotate(-90) scale(0.76,1)" font-size="12" text-anchor="end" fill="#3c3c3e" stroke="#fff" stroke-width="2.4" paint-order="stroke" stroke-linejoin="round">5.6</text>
<text transform="translate(405.58,474.6) rotate(-90) scale(0.76,1)" font-size="12" text-anchor="end" fill="#3c3c3e" stroke="#3c3c3e" stroke-width="0.5">5.6</text>
<text transform="translate(419.98,474.6) rotate(-90) scale(0.76,1)" font-size="12" text-anchor="end" fill="#3c3c3e" stroke="#3c3c3e" stroke-width="0.5">5.0</text>
<text transform="translate(434.37,474.6) rotate(-90) scale(0.76,1)" font-size="12" text-anchor="end" fill="#3c3c3e" stroke="#fff" stroke-width="2.4" paint-order="stroke" stroke-linejoin="round">5.8</text>
<text transform="translate(434.37,474.6) rotate(-90) scale(0.76,1)" font-size="12" text-anchor="end" fill="#3c3c3e" stroke="#3c3c3e" stroke-width="0.5">5.8</text>
<text transform="translate(448.77,474.6) rotate(-90) scale(0.76,1)" font-size="12" text-anchor="end" fill="#3c3c3e" stroke="#3c3c3e" stroke-width="0.5">7.2</text>
<text transform="translate(463.16,474.6) rotate(-90) scale(0.76,1)" font-size="12" text-anchor="end" fill="#3c3c3e" stroke="#3c3c3e" stroke-width="0.5">6.6</text>
<text transform="translate(477.56,474.6) rotate(-90) scale(0.76,1)" font-size="12" text-anchor="end" fill="#3c3c3e" stroke="#3c3c3e" stroke-width="0.5">6.8</text>
<text transform="translate(491.95,474.6) rotate(-90) scale(0.76,1)" font-size="12" text-anchor="end" fill="#3c3c3e" stroke="#fff" stroke-width="2.4" paint-order="stroke" stroke-linejoin="round">3.2</text>
<text transform="translate(491.95,474.6) rotate(-90) scale(0.76,1)" font-size="12" text-anchor="end" fill="#3c3c3e" stroke="#3c3c3e" stroke-width="0.5">3.2</text>
<text transform="translate(506.35,474.6) rotate(-90) scale(0.76,1)" font-size="12" text-anchor="end" fill="#3c3c3e" stroke="#3c3c3e" stroke-width="0.5">-3.6</text>
<text transform="translate(520.74,474.6) rotate(-90) scale(0.76,1)" font-size="12" text-anchor="end" fill="#3c3c3e" stroke="#3c3c3e" stroke-width="0.5">-2.0</text>
<text transform="translate(535.14,474.6) rotate(-90) scale(0.76,1)" font-size="12" text-anchor="end" fill="#3c3c3e" stroke="#3c3c3e" stroke-width="0.5">0.8</text>
<text transform="translate(549.53,474.6) rotate(-90) scale(0.76,1)" font-size="12" text-anchor="end" fill="#3c3c3e" stroke="#3c3c3e" stroke-width="0.5">2.0</text>
<text transform="translate(563.93,474.6) rotate(-90) scale(0.76,1)" font-size="12" text-anchor="end" fill="#3c3c3e" stroke="#3c3c3e" stroke-width="0.5">2.6</text>
<text transform="translate(578.32,474.6) rotate(-90) scale(0.76,1)" font-size="12" text-anchor="end" fill="#3c3c3e" stroke="#3c3c3e" stroke-width="0.5">1.2</text>
<text transform="translate(592.72,474.6) rotate(-90) scale(0.76,1)" font-size="12" text-anchor="end" fill="#3c3c3e" stroke="#3c3c3e" stroke-width="0.5">1.2</text>
<text transform="translate(607.11,474.6) rotate(-90) scale(0.76,1)" font-size="12" text-anchor="end" fill="#3c3c3e" stroke="#3c3c3e" stroke-width="0.5">1.4</text>
<text transform="translate(621.51,474.6) rotate(-90) scale(0.76,1)" font-size="12" text-anchor="end" fill="#3c3c3e" stroke="#3c3c3e" stroke-width="0.5">1.4</text>
<text transform="translate(635.9,474.6) rotate(-90) scale(0.76,1)" font-size="12" text-anchor="end" fill="#3c3c3e" stroke="#3c3c3e" stroke-width="0.5">0.6</text>
<text transform="translate(649.1,474.6) rotate(-90) scale(0.76,1)" font-size="12" text-anchor="end" fill="#3c3c3e" stroke="#fff" stroke-width="2.6" paint-order="stroke" stroke-linejoin="round">3.0</text>
<text transform="translate(649.1,474.6) rotate(-90) scale(0.76,1)" font-size="12" text-anchor="end" fill="#3c3c3e" stroke="#3c3c3e" stroke-width="0.5">3.0</text>
<text transform="translate(105.27,540.4) rotate(-90) scale(0.74,1)" font-size="12.5" text-anchor="end" fill="#3c3c3e" stroke="#3c3c3e" stroke-width="0.3">1.350</text>
<text transform="translate(195.75,540.4) rotate(-90) scale(0.74,1)" font-size="12.5" text-anchor="end" fill="#3c3c3e" stroke="#3c3c3e" stroke-width="0.3">4.500</text>
<text transform="translate(255.45,540.4) rotate(-90) scale(0.74,1)" font-size="12.5" text-anchor="end" fill="#3c3c3e" stroke="#3c3c3e" stroke-width="0.3">6.650</text>
<text transform="translate(304.86,540.4) rotate(-90) scale(0.74,1)" font-size="12.5" text-anchor="end" fill="#3c3c3e" stroke="#3c3c3e" stroke-width="0.3">8.300</text>
<text transform="translate(399.9,540.4) rotate(-90) scale(0.74,1)" font-size="12.5" text-anchor="end" fill="#3c3c3e" stroke="#3c3c3e" stroke-width="0.3">11.650</text>
<text transform="translate(435.65,540.4) rotate(-90) scale(0.74,1)" font-size="12.5" text-anchor="end" fill="#3c3c3e" stroke="#3c3c3e" stroke-width="0.3">12.850</text>
<text transform="translate(61.2,540.6) rotate(-90) scale(0.73,1)" font-size="12.6" text-anchor="end" fill="#262628" font-weight="bold" stroke="#262628" stroke-width="0.3">0.000</text>
<text transform="translate(76,540.6) rotate(-90) scale(0.745,1)" font-size="12.6" text-anchor="end" fill="#262628" font-weight="bold" stroke="#262628" stroke-width="0.3">km 179.4</text>
<text transform="translate(487.3,540.6) rotate(-90) scale(0.73,1)" font-size="12.6" text-anchor="end" fill="#262628" font-weight="bold" stroke="#262628" stroke-width="0.3">14.850</text>
<text transform="translate(502.1,540.6) rotate(-90) scale(0.745,1)" font-size="12.6" text-anchor="end" fill="#262628" font-weight="bold" stroke="#262628" stroke-width="0.3">km 192.9</text>
<text transform="translate(646.62,540.6) rotate(-90) scale(0.73,1)" font-size="12.6" text-anchor="end" fill="#262628" font-weight="bold" stroke="#262628" stroke-width="0.3">20.350</text>
<text transform="translate(661.42,540.6) rotate(-90) scale(0.745,1)" font-size="12.6" text-anchor="end" fill="#262628" font-weight="bold" stroke="#262628" stroke-width="0.3">km 198.5</text>
<polygon points="44.6,431.48 63.4,445.08 63.4,513.2 44.6,504.5" fill="url(#side)"/>
<polyline points="64,513.5 44.6,504.3 44.6,431.28" fill="none" stroke="#1d1d1d" stroke-width="5.6" stroke-linejoin="round" stroke-linecap="butt"/>
<polyline points="490.93,212.38 495.25,213.82 509.64,219.29 515.98,220.88 524.04,220.88 538.43,219.87 544.77,219 552.83,216.7 567.23,212.96 572.98,211.8 581.62,211.08 596.01,209.5 610.41,207.48 624.8,205.76 639.2,204.6 649.42,202.01" fill="none" stroke="#1d1d1d" stroke-width="6.0" stroke-linejoin="round" stroke-linecap="round"/>
<polyline points="63.4,445.08 77.8,445.66 92.19,446.24 102.27,447.39 105.15,446.09 110.33,442.06 120.98,440.48 135.38,437.02 149.77,426.65 164.16,416 178.56,406.2 186.33,399.44 192.09,398.72 207.35,388.92 221.75,378.84 236.14,370.49 250.53,362.14 254.85,359.55 264.93,353.21 279.32,344 293.72,333.92 302.36,329.02 308.12,325.28 322.51,315.2 336.9,306.56 351.3,297.34 365.69,288.12 380.09,280.35 394.48,270.56 398.8,267.96 408.88,262.49 423.27,255.29 433.35,250.68 437.67,248.09 452.06,236.57 466.46,227.07 480.85,217.28 490.93,212.38" fill="none" stroke="#1d1d1d" stroke-width="6.2" stroke-linejoin="round" stroke-linecap="round"/>
<polyline points="490.93,212.38 495.25,213.82 509.64,219.29 515.98,220.88 524.04,220.88 538.43,219.87 544.77,219 552.83,216.7 567.23,212.96 572.98,211.8 581.62,211.08 596.01,209.5 610.41,207.48 624.8,205.76 639.2,204.6 649.42,202.01" fill="none" stroke="#808285" stroke-width="2.7" stroke-linejoin="round" stroke-linecap="round"/>
<polyline points="63.4,445.08 77.8,445.66 92.19,446.24 102.27,447.39 105.15,446.09 110.33,442.06 120.98,440.48 135.38,437.02 149.77,426.65 164.16,416 178.56,406.2 186.33,399.44 192.09,398.72 207.35,388.92 221.75,378.84 236.14,370.49 250.53,362.14 254.85,359.55 264.93,353.21 279.32,344 293.72,333.92 302.36,329.02 308.12,325.28 322.51,315.2 336.9,306.56 351.3,297.34 365.69,288.12 380.09,280.35 394.48,270.56 398.8,267.96 408.88,262.49 423.27,255.29 433.35,250.68 437.67,248.09 452.06,236.57 466.46,227.07 480.85,217.28 490.93,212.38" fill="none" stroke="#ed1c24" stroke-width="3.0" stroke-linejoin="round" stroke-linecap="round"/>
<polyline points="46.4,431.48 60.8,432.06 75.19,432.64 85.27,433.79 88.15,432.49 93.33,428.46 103.98,426.88 118.38,423.42 132.77,413.05 147.16,402.4 161.56,392.6 169.33,385.84 175.09,385.12 190.35,375.32 204.75,365.24 219.14,356.89 233.53,348.54 237.85,345.95 247.93,339.61 262.32,330.4 276.72,320.32 285.36,315.42 291.12,311.68 305.51,301.6 319.9,292.96 334.3,283.74 348.69,274.52 363.09,266.75 377.48,256.96 381.8,254.36 391.88,248.89 406.27,241.69 416.35,237.08 420.67,234.49 435.06,222.97 449.46,213.47 463.49,203.68 472.73,198.78 477.41,200.22 492.64,205.69 498.98,207.28 507.04,207.28 521.43,206.27 527.77,205.4 535.83,203.1 550.23,199.36 555.98,198.2 564.62,197.48 579.01,195.9 593.41,193.88 607.8,192.16 622.2,191 632.42,188.41 634.02,188.51" fill="none" stroke="#1d1d1d" stroke-width="5.2" stroke-linejoin="round" stroke-linecap="round"/>
<line x1="406.2" y1="220.8" x2="436.5" y2="233.2" stroke="#1d1d1d" stroke-width="1.1"/>
<circle cx="438.3" cy="233.9" r="2.5" fill="#fff" stroke="#1d1d1d" stroke-width="1.2"/>
<text transform="translate(332.2,63) scale(0.775,1)" font-size="20.4" text-anchor="start" fill="#262628" font-weight="bold" stroke="#262628" stroke-width="0.55">1190</text>
<text transform="translate(369.2,63) scale(0.7,1)" font-size="20.4" text-anchor="start" fill="#262628" font-weight="bold" stroke="#262628" stroke-width="0.6">-</text>
<text transform="translate(378.9,63) scale(0.668,1)" font-size="20.4" text-anchor="start" fill="#262628" font-weight="bold" stroke="#262628" stroke-width="0.6">CALASCIO</text>
<text transform="translate(38.7,299.2) rotate(-90) scale(0.675,1)" font-size="20" text-anchor="end" fill="#262628" font-weight="bold" stroke="#262628" stroke-width="0.55">SS.602</text>
<text transform="translate(38.7,347.6) rotate(-90) scale(0.69,1)" font-size="20" text-anchor="end" fill="#262628" font-weight="bold" stroke="#262628" stroke-width="0.55">INNESTO</text>
<text transform="translate(38.7,419.6) rotate(-90) scale(0.72,1)" font-size="20" text-anchor="start" fill="#262628" font-weight="bold" stroke="#262628" stroke-width="0.55">-</text>
<text transform="translate(38.7,451.4) rotate(-90) scale(0.8,1)" font-size="20" text-anchor="start" fill="#262628" font-weight="bold" stroke="#262628" stroke-width="0.55">382</text>
<text transform="translate(653.3,27.4) rotate(-90) scale(0.6917,1)" font-size="20" text-anchor="end" fill="#262628" font-weight="bold" stroke="#262628" stroke-width="0.55">STEFANO</text>
<text transform="translate(653.3,95.6) rotate(-90) scale(0.652,1)" font-size="20" text-anchor="end" fill="#262628" font-weight="bold" stroke="#262628" stroke-width="0.55">SANTO</text>
<text transform="translate(653.3,150.6) rotate(-90) scale(0.72,1)" font-size="20" text-anchor="start" fill="#262628" font-weight="bold" stroke="#262628" stroke-width="0.55">-</text>
<text transform="translate(653.3,188.6) rotate(-90) scale(0.74,1)" font-size="20" text-anchor="start" fill="#262628" font-weight="bold" stroke="#262628" stroke-width="0.55">1228</text>
<text transform="translate(672.6,27.4) rotate(-90) scale(0.692,1)" font-size="20" text-anchor="end" fill="#262628" font-weight="bold" stroke="#262628" stroke-width="0.55">SESSANIO</text>
<text transform="translate(672.6,103.2) rotate(-90) scale(0.66,1)" font-size="20" text-anchor="end" fill="#262628" font-weight="bold" stroke="#262628" stroke-width="0.55">DI</text>
<polygon points="453.5,48.0 491.9,48.0 472.6,81.0" fill="url(#gpm)" stroke="#6f6247" stroke-width="1.0" stroke-linejoin="round"/>
<text transform="translate(472.8,60.2) scale(0.76,1)" font-size="12.2" text-anchor="middle" fill="#c9cdd0" font-weight="bold" stroke="#4a4a4c" stroke-width="1.7" paint-order="stroke" stroke-linejoin="round">GPM</text>
<text transform="translate(472.5,72.4) scale(0.74,1)" font-size="13" text-anchor="middle" fill="#262628" font-weight="bold" stroke="#262628" stroke-width="0.3">2</text>
<polygon points="407.2,74.7 400.3,88.0 414.2,88.0" fill="#fff" stroke="#b4b6b8" stroke-width="4.6" stroke-linejoin="round"/>
<polygon points="407.2,74.7 400.3,88.0 414.2,88.0" fill="#fff" stroke="#ee1c25" stroke-width="2.3" stroke-linejoin="round"/>
<polygon points="402.8,87.0 412.0,87.0 409.9,82.3" fill="#1d1d1d"/>
<rect x="388.2" y="93.1" width="37.6" height="14.1" rx="2.2" fill="#18272e"/>
<text transform="translate(391,103.5) scale(0.745,1)" font-size="10.6" text-anchor="start" fill="#fff" stroke="#fff" stroke-width="0.3">max</text>
<text transform="translate(408.3,103.5) scale(0.7,1)" font-size="11" text-anchor="start" fill="#fff" font-weight="bold">10%</text>
<g transform="translate(657.0,514.3) rotate(-90)" fill="none" stroke="#1d1d1d" stroke-width="1.6" stroke-linecap="round" stroke-linejoin="round"><path d="M10.6,1.4 C9,-0.1 2.6,-0.4 1.4,1.7 C0.4,4 11,3.9 10.5,6.3 C10,8.3 2.8,8 0.6,6.5"/><path d="M13.2,0.5 L13.2,7.4 C17,7.2 22.6,5.4 22.6,4 C22.6,2.6 17,0.7 13.2,0.5 Z"/><path d="M35.4,1.4 C33.8,-0.1 27.4,-0.4 26.2,1.7 C25.2,4 35.8,3.9 35.3,6.3 C34.8,8.3 27.6,8 25.4,6.5"/></g>
</svg>
</body></html>
